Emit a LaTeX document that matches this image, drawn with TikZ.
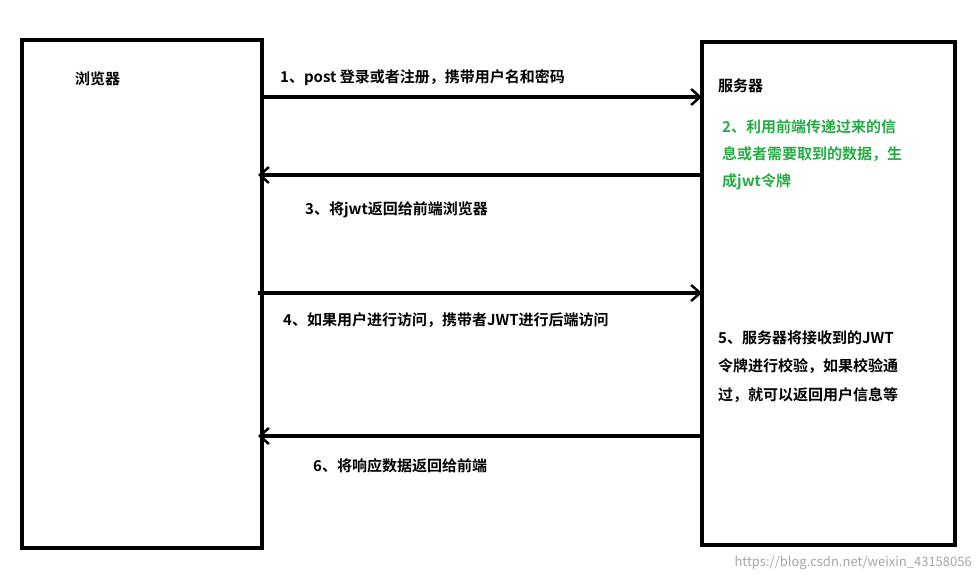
\documentclass[tikz,border=0pt]{standalone}
\usepackage{fontspec}
\setmainfont{Noto Sans CJK SC}[BoldFont={* Bold}]
\usetikzlibrary{arrows.meta}
\definecolor{jwtgreen}{RGB}{40,170,70}
\begin{document}
\begin{tikzpicture}[x=1pt,y=-1pt,
  box/.style={draw=black,line width=4pt},
  msg/.style={line width=4pt,-{Straight Barb[length=9pt,width=16pt,line width=2.5pt]}},
  lbl/.style={anchor=west,font=\bfseries\fontsize{15}{18}\selectfont,inner sep=0pt},
  glbl/.style={lbl,text=jwtgreen}]
\useasboundingbox (0,0) rectangle (980,580);
\draw[box] (22,40) rectangle (262,548);
\draw[box] (702,42) rectangle (955,545);
\coordinate (a1) at (262,97); \coordinate (b1) at (702,97);
\coordinate (a3) at (258,175); \coordinate (b3) at (702,175);
\coordinate (a4) at (258,293); \coordinate (b4) at (702,293);
\coordinate (a6) at (258,436); \coordinate (b6) at (702,436);
\draw[msg] (a1) -- (b1);
\draw[msg] (b3) -- (a3);
\draw[msg] (a4) -- (b4);
\draw[msg] (b6) -- (a6);
\node[lbl] (t0) at (75,79) {浏览器};
\node[lbl] (t1) at (280,78) {1、post 登录或者注册，携带用户名和密码};
\node[lbl] (ts) at (718,86) {服务器};
\node[glbl] (t2a) at (722,127) {2、利用前端传递过来的信};
\node[glbl] (t2b) at (722,154) {息或者需要取到的数据，生};
\node[glbl] (t2c) at (722,182) {成jwt令牌};
\node[lbl] (t3) at (305,210) {3、将jwt返回给前端浏览器};
\node[lbl] (t4) at (283,320) {4、如果用户进行访问，携带者JWT进行后端访问};
\node[lbl] (t5a) at (718,338) {5、服务器将接收到的JWT};
\node[lbl] (t5b) at (718,366) {令牌进行校验，如果校验通};
\node[lbl] (t5c) at (718,395) {过，就可以返回用户信息等};
\node[lbl] (t6) at (313,466) {6、将响应数据返回给前端};
\node[anchor=east,inner sep=0pt,text=gray!70,font=\fontsize{13}{15}\selectfont] (wm) at (972,563) {https://blog.csdn.net/weixin\_43158056};
\end{tikzpicture}
\end{document}
